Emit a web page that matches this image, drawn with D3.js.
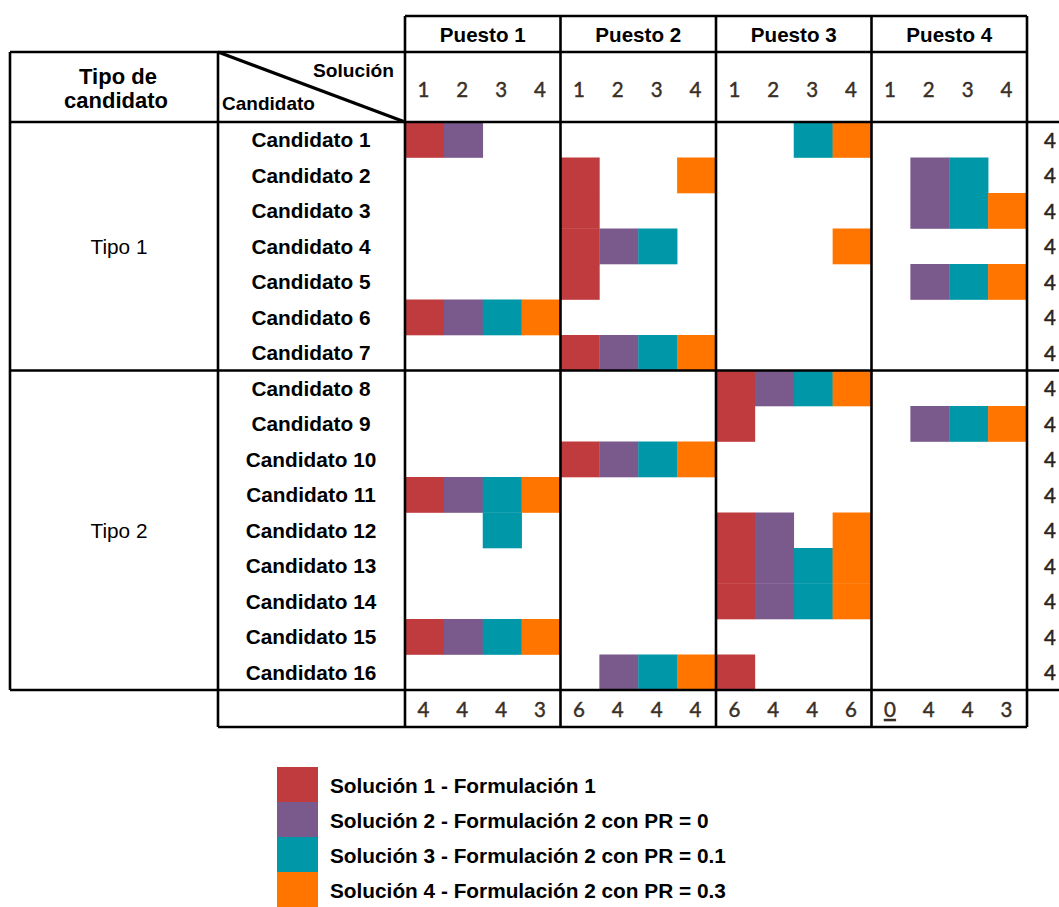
<!DOCTYPE html>
<html>
<head>
<meta charset="utf-8">
<script src="https://cdn.jsdelivr.net/npm/d3@7"></script>
<style>
  body { margin: 0; background: #fff; }
  svg { display: block; }
</style>
</head>
<body>
<svg id="chart" width="1059" height="907"></svg>
<script>
// datos
var puestos = ["Puesto 1", "Puesto 2", "Puesto 3", "Puesto 4"];
var soluciones = [1, 2, 3, 4];
var candidatos = ["Candidato 1", "Candidato 2", "Candidato 3", "Candidato 4", "Candidato 5", "Candidato 6", "Candidato 7",
  "Candidato 8", "Candidato 9", "Candidato 10", "Candidato 11", "Candidato 12", "Candidato 13", "Candidato 14",
  "Candidato 15", "Candidato 16"];
var tipos = [{ nombre: "Tipo 1", n: 7 }, { nombre: "Tipo 2", n: 9 }];
// puesto asignado a cada candidato en cada solucion
var solucion1 = [1, 2, 2, 2, 2, 1, 2, 3, 3, 2, 1, 3, 3, 3, 1, 3];
var solucion2 = [1, 4, 4, 2, 4, 1, 2, 3, 4, 2, 1, 3, 3, 3, 1, 2];
var solucion3 = [3, 4, 4, 2, 4, 1, 2, 3, 4, 2, 1, 1, 3, 3, 1, 2];
var solucion4 = [3, 2, 4, 3, 4, 1, 2, 3, 4, 2, 1, 3, 3, 3, 1, 2];
var totalesPuesto = [4, 4, 4, 3, 6, 4, 4, 4, 6, 4, 4, 6, 0, 4, 4, 3];
var totalesCandidato = [4, 4, 4, 4, 4, 4, 4, 4, 4, 4, 4, 4, 4, 4, 4, 4];
var leyenda = ["Solución 1 - Formulación 1", "Solución 2 - Formulación 2 con PR = 0",
  "Solución 3 - Formulación 2 con PR = 0.1", "Solución 4 - Formulación 2 con PR = 0.3"];
var colores = ["#bf3b3d", "#7a598c", "#0097a9", "#ff7500"];

var svg = d3.select("#chart");
var font = "'Liberation Sans', Arial, sans-serif";
var numFont = "Lato, 'Open Sans', sans-serif";
var numColor = "#3a2f26";

var x = d3.scaleBand().domain(puestos).range([405, 1027]);
var xs = d3.scaleBand().domain(soluciones).range([0, x.bandwidth()]);
var y = d3.scaleBand().domain(candidatos).range([122, 690]);
var color = d3.scaleOrdinal().domain(soluciones).range(colores);

var top0 = 16, head1 = 52, bottom = 727, left = 10, colC = 218, rightEdge = 1059;

// celdas
var asignacion = [solucion1, solucion2, solucion3, solucion4];
var celdas = [];
asignacion.forEach(function (arr, s) {
  arr.forEach(function (p, c) {
    celdas.push({ sol: soluciones[s], puesto: puestos[p - 1], cand: candidatos[c] });
  });
});

svg.append("g").selectAll("rect")
  .data(celdas)
  .join("rect")
  .attr("x", function (d) { return x(d.puesto) + xs(d.sol); })
  .attr("y", function (d) { return y(d.cand); })
  .attr("width", xs.bandwidth() + 0.3)
  .attr("height", y.bandwidth() + 0.3)
  .attr("fill", function (d) { return color(d.sol); });

// lineas de la tabla
var lines = svg.append("g").attr("stroke", "#000").attr("fill", "none");
function line(x1, y1, x2, y2, w) {
  lines.append("line").attr("x1", x1).attr("y1", y1).attr("x2", x2).attr("y2", y2)
    .attr("stroke-width", w || 2.6);
}
var xEnd = x.range()[1];
line(x.range()[0], top0, xEnd, top0);
line(left, head1, xEnd, head1);
line(left, y.range()[0], rightEdge, y.range()[0]);
var yTipo2 = y(candidatos[tipos[0].n]);
line(left, yTipo2, rightEdge, yTipo2);
line(left, y.range()[1], rightEdge, y.range()[1]);
line(colC, bottom, xEnd, bottom);
line(left, head1, left, y.range()[1]);
line(colC, head1, colC, bottom);
puestos.forEach(function (p) { line(x(p), top0, x(p), bottom); });
line(xEnd, top0, xEnd, bottom);
line(colC, head1, x.range()[0], y.range()[0], 3.2);

// cabeceras
svg.append("g").selectAll("text")
  .data(puestos)
  .join("text")
  .attr("x", function (d) { return x(d) + x.bandwidth() / 2; })
  .attr("y", 42)
  .attr("text-anchor", "middle")
  .attr("font-family", font).attr("font-weight", "bold").attr("font-size", "20.6px")
  .text(function (d) { return d; });

var sub = [];
puestos.forEach(function (p) { soluciones.forEach(function (s) { sub.push({ p: p, s: s }); }); });
svg.append("g").selectAll("text")
  .data(sub)
  .join("text")
  .attr("x", function (d) { return x(d.p) + xs(d.s) + xs.bandwidth() / 2 - 1; })
  .attr("y", 97)
  .attr("text-anchor", "middle")
  .attr("font-family", numFont).attr("font-size", "20.5px").attr("fill", numColor)
  .attr("stroke", numColor).attr("stroke-width", 0.45)
  .text(function (d) { return d.s; });

svg.append("text").attr("x", 118).attr("y", 84)
  .attr("text-anchor", "middle").attr("font-family", font).attr("font-weight", "bold").attr("font-size", "22px")
  .text("Tipo de");
svg.append("text").attr("x", 116).attr("y", 108)
  .attr("text-anchor", "middle").attr("font-family", font).attr("font-weight", "bold").attr("font-size", "22px")
  .text("candidato");
svg.append("text").attr("x", 394).attr("y", 77)
  .attr("text-anchor", "end").attr("font-family", font).attr("font-weight", "bold").attr("font-size", "19.2px")
  .text("Solución");
svg.append("text").attr("x", 222).attr("y", 110)
  .attr("font-family", font).attr("font-weight", "bold").attr("font-size", "19px")
  .text("Candidato");

// etiquetas de candidatos
svg.append("g").selectAll("text")
  .data(candidatos)
  .join("text")
  .attr("x", 311)
  .attr("y", function (d) { return y(d) + y.bandwidth() / 2 + 7.5; })
  .attr("text-anchor", "middle")
  .attr("font-family", font).attr("font-weight", "bold").attr("font-size", "20.8px")
  .text(function (d) { return d; });

// tipos
var acc = 0;
tipos.forEach(function (t) {
  var y0 = y(candidatos[acc]);
  var y1 = y(candidatos[acc + t.n - 1]) + y.bandwidth();
  acc += t.n;
  svg.append("text").attr("x", 119).attr("y", (y0 + y1) / 2 + 7.5)
    .attr("text-anchor", "middle").attr("font-family", font).attr("font-size", "20.8px")
    .text(t.nombre);
});

// totales por puesto y solucion
svg.append("g").selectAll("text")
  .data(sub)
  .join("text")
  .attr("x", function (d) { return x(d.p) + xs(d.s) + xs.bandwidth() / 2 - 1; })
  .attr("y", 717)
  .attr("text-anchor", "middle")
  .attr("font-family", numFont).attr("font-size", "20.5px").attr("fill", numColor)
  .attr("stroke", numColor).attr("stroke-width", 0.45)
  .attr("text-decoration", function (d, i) { return totalesPuesto[i] === 0 ? "underline" : null; })
  .text(function (d, i) { return totalesPuesto[i]; });

// totales por candidato (columna cortada a la derecha)
svg.append("g").selectAll("text")
  .data(candidatos)
  .join("text")
  .attr("x", 1050)
  .attr("y", function (d) { return y(d) + y.bandwidth() / 2 + 8; })
  .attr("text-anchor", "middle")
  .attr("font-family", numFont).attr("font-size", "20.5px").attr("fill", "#2a2420")
  .attr("stroke", "#2a2420").attr("stroke-width", 0.5)
  .text(function (d, i) { return totalesCandidato[i]; });

// leyenda
var ly = d3.scaleBand().domain(soluciones).range([767, 907]);
var leg = svg.append("g");
leg.selectAll("rect")
  .data(soluciones)
  .join("rect")
  .attr("x", 277).attr("y", function (d) { return ly(d); })
  .attr("width", 41).attr("height", ly.bandwidth() + 0.5)
  .attr("fill", function (d) { return color(d); });
leg.selectAll("text")
  .data(soluciones)
  .join("text")
  .attr("x", 330)
  .attr("y", function (d) { return ly(d) + ly.bandwidth() / 2 + 8; })
  .attr("font-family", font).attr("font-weight", "bold").attr("font-size", "20.8px")
  .text(function (d, i) { return leyenda[i]; });
</script>
</body>
</html>
